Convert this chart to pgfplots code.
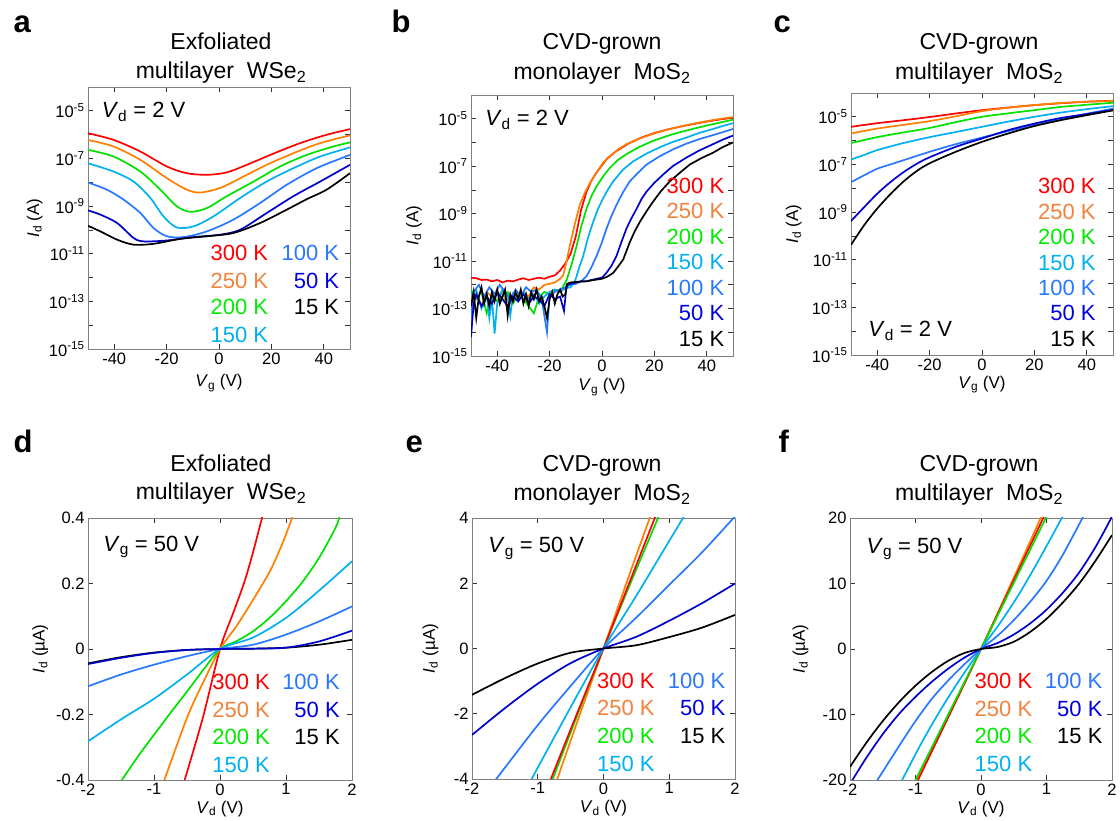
\documentclass[border=0pt]{standalone}
\usepackage{fontspec}
\setmainfont{Liberation Sans}
\usepackage{pgfplots}
\pgfplotsset{compat=1.18}
\definecolor{c300}{RGB}{255,0,0}
\definecolor{c250}{RGB}{255,128,0}
\definecolor{c250t}{RGB}{240,130,60}
\definecolor{c200}{RGB}{0,225,0}
\definecolor{c200t}{RGB}{0,235,0}
\definecolor{c150}{RGB}{0,176,240}
\definecolor{c100}{RGB}{40,120,255}
\definecolor{c50}{RGB}{0,0,205}
\definecolor{c50t}{RGB}{0,0,225}
\definecolor{c15}{RGB}{0,0,0}
\definecolor{framec}{RGB}{128,128,128}
\newcommand\tfont{\fontsize{16.5}{16.5}\selectfont}
\newcommand\afont{\fontsize{17}{17}\selectfont}
\newcommand\Lfont{\fontsize{22}{22}\selectfont}
\newcommand\Tfont{\fontsize{23}{23}\selectfont}
\newcommand\Pfont{\fontsize{31}{31}\selectfont\bfseries}
\pgfplotsset{
  panel/.style={
    scale only axis, width=262pt, height=262pt, anchor=south west,
    axis line style={draw=framec, line width=0.8pt},
    tick align=inside, tick pos=both,
    major tick length=5pt, minor tick length=5pt,
    every tick/.style={draw=black!80, line width=0.7pt},
    tick label style={font=\tfont},
    label style={font=\afont},
    xlabel style={anchor=base},
    ylabel style={anchor=base},
    every axis plot/.append style={line width=1.7pt},
  },
  logpanel/.style={
    ymin=1e-15, ymax=1e-4,
    xmin=-50, xmax=50,
    xtick={-40,-20,0,20,40}, xticklabels={-40,-20,0,20,40},
    ytick={1e-15,1e-14,1e-13,1e-12,1e-11,1e-10,1e-9,1e-8,1e-7,1e-6,1e-5,1e-4},
    yticklabels={10\textsuperscript{-15},,10\textsuperscript{-13},,10\textsuperscript{-11},,10\textsuperscript{-9},,10\textsuperscript{-7},,10\textsuperscript{-5},},
    yminorticks=false, xminorticks=false,
    xlabel={\textit{V}\textsubscript{g} (V)},
    ylabel={\textit{I}\textsubscript{d} (A)},
  },
  ivpanel/.style={
    xmin=-2, xmax=2,
    xtick={-2,-1,0,1,2}, xticklabels={-2,-1,0,1,2},
    xlabel={\textit{V}\textsubscript{d} (V)},
    ylabel={\textit{I}\textsubscript{d} (µA)},
  },
}
\begin{document}
\begin{tikzpicture}
\useasboundingbox (0,0) rectangle (1120pt,821pt);

% ---------------- titles and panel letters ----------------
\node[font=\Pfont, anchor=base west] at (10pt,788pt) {a};
\node[font=\Pfont, anchor=base west] at (388pt,788pt) {b};
\node[font=\Pfont, anchor=base west] at (770pt,788pt) {c};
\node[font=\Pfont, anchor=base west] at (10pt,368pt) {d};
\node[font=\Pfont, anchor=base west] at (402pt,368pt) {e};
\node[font=\Pfont, anchor=base west] at (775pt,368pt) {f};

\node[font=\Tfont, anchor=base] at (221pt,771pt) {Exfoliated};
\node[font=\Tfont, anchor=base] at (221pt,742pt) {multilayer\ \ WSe\textsubscript{2}};
\node[font=\Tfont, anchor=base] at (602pt,771pt) {CVD-grown};
\node[font=\Tfont, anchor=base] at (602pt,741pt) {monolayer\ \ MoS\textsubscript{2}};
\node[font=\Tfont, anchor=base] at (979pt,771pt) {CVD-grown};
\node[font=\Tfont, anchor=base] at (979pt,741pt) {multilayer\ \ MoS\textsubscript{2}};

\node[font=\Tfont, anchor=base] at (221pt,349pt) {Exfoliated};
\node[font=\Tfont, anchor=base] at (221pt,321pt) {multilayer\ \ WSe\textsubscript{2}};
\node[font=\Tfont, anchor=base] at (602pt,349pt) {CVD-grown};
\node[font=\Tfont, anchor=base] at (602pt,320pt) {monolayer\ \ MoS\textsubscript{2}};
\node[font=\Tfont, anchor=base] at (979pt,349pt) {CVD-grown};
\node[font=\Tfont, anchor=base] at (979pt,320pt) {multilayer\ \ MoS\textsubscript{2}};

% ---------------- panel a ----------------
\begin{semilogyaxis}[panel, logpanel, at={(88pt,472pt)},
  xlabel style={at={(axis description cs:0.5,-0.145)}},
  ylabel style={at={(axis description cs:-0.187,0.5)}}]
\addplot[c300, smooth] coordinates {(-50,1.15e-6)(-40.2,6.0e-7)(-30,1.95e-7)(-19.9,4.6e-8)(-12.3,2.4e-8)(-4.6,2.05e-8)(3,2.6e-8)(10.6,5.4e-8)(20.8,1.6e-7)(31,4.4e-7)(41,9.8e-7)(50,1.7e-6)};
\addplot[c250, smooth] coordinates {(-50,6.0e-7)(-40.2,3.16e-7)(-30,8.7e-8)(-19.9,1.48e-8)(-12.3,4.9e-9)(-7.2,3.7e-9)(0.4,5.75e-9)(8.1,1.48e-8)(18.2,5.4e-8)(28.4,1.66e-7)(38.6,4.4e-7)(50,9.3e-7)};
\addplot[c200, smooth] coordinates {(-50,2.3e-7)(-40.2,1.2e-7)(-30,2.8e-8)(-22.4,4.9e-9)(-16.1,9.8e-10)(-11,5.75e-10)(-4.6,8.3e-10)(3,2.6e-9)(13.2,1.07e-8)(23.3,4.6e-8)(33.5,1.41e-7)(43.6,3.16e-7)(50,4.7e-7)};
\addplot[c150, smooth] coordinates {(-50,6.3e-8)(-40.2,2.8e-8)(-32.6,1.07e-8)(-26.2,2.2e-9)(-21.2,3.7e-10)(-16.1,1.26e-10)(-9.7,1.41e-10)(-2.1,3.7e-10)(8.1,2.2e-9)(18.2,1.07e-8)(28.4,3.9e-8)(38.6,1.2e-7)(50,2.9e-7)};
\addplot[c100, smooth] coordinates {(-50,9.8e-9)(-42.8,4.9e-9)(-36.4,1.86e-9)(-30,5.1e-10)(-25,1.2e-10)(-19.9,5.4e-11)(-13.5,5.0e-11)(-4.6,8.7e-11)(5.5,2.7e-10)(15.7,1.35e-9)(25.9,7.9e-9)(37.3,3.9e-8)(50,1.41e-7)};
\addplot[c50, smooth] coordinates {(-50,6.6e-10)(-45.3,4.4e-10)(-38.9,1.95e-10)(-32.6,4.6e-11)(-28.8,3.3e-11)(-19.9,3.6e-11)(-9.7,5.0e-11)(0.4,6.3e-11)(8.1,1.02e-10)(18.2,5.1e-10)(28.4,2.6e-9)(38.6,1.07e-8)(50,5.4e-8)};
\addplot[c15, smooth] coordinates {(-50,1.48e-10)(-45.3,8.7e-11)(-38.9,3.9e-11)(-32.6,2.4e-11)(-25,2.6e-11)(-14.8,4.2e-11)(-4.6,5.4e-11)(5.5,7.4e-11)(15.7,1.95e-10)(25.9,7.1e-10)(33.5,1.95e-9)(41.1,4.9e-9)(50,2.4e-8)};
\node[font=\Lfont, anchor=base west] at (rel axis cs:0.039,0.882) {\textit{V}\textsubscript{d} = 2 V};
\node[font=\Lfont, anchor=base east, text=c300] at (rel axis cs:0.701,0.337) {300 K};
\node[font=\Lfont, anchor=base east, text=c250t] at (rel axis cs:0.701,0.232) {250 K};
\node[font=\Lfont, anchor=base east, text=c200t] at (rel axis cs:0.701,0.130) {200 K};
\node[font=\Lfont, anchor=base east, text=c150] at (rel axis cs:0.701,0.023) {150 K};
\node[font=\Lfont, anchor=base east, text=c100] at (rel axis cs:0.972,0.337) {100 K};
\node[font=\Lfont, anchor=base east, text=c50t] at (rel axis cs:0.972,0.232) {50 K};
\node[font=\Lfont, anchor=base east, text=c15] at (rel axis cs:0.972,0.130) {15 K};
\end{semilogyaxis}

% ---------------- panel b ----------------
\begin{semilogyaxis}[panel, logpanel, at={(471pt,465pt)}, height=261pt,
  xlabel style={at={(axis description cs:0.5,-0.134)}},
  ylabel style={at={(axis description cs:-0.201,0.5)}}]
\addplot[c300] coordinates {(-50,2.0e-12)(-48,1.9e-12)(-46,1.6e-12)(-44,1.66e-12)(-42,1.4e-12)(-40,1.6e-12)(-38,1.26e-12)(-36,1.5e-12)(-34,1.4e-12)(-32,1.66e-12)(-30,1.9e-12)(-28,1.6e-12)(-26,1.8e-12)(-24,2.0e-12)(-22,1.8e-12)(-20,2.2e-12)(-18,2.5e-12)(-16,4.0e-12)(-14,7.9e-12)(-12,2.0e-11)(-10,1.1e-10)(-8,1.4e-9)(-6,7.9e-9)(-4,2.5e-8)(-2,5.6e-8)(0,1.1e-7)(2,2.1e-7)(5,4.0e-7)(10,8.9e-7)(15,1.6e-6)(20,2.5e-6)(25,3.5e-6)(30,4.7e-6)(35,6.0e-6)(40,7.6e-6)(45,9.3e-6)(50,1.1e-5)};
\addplot[c250] coordinates {(-50,2.5e-13)(-48,4.0e-13)(-46,1.26e-13)(-44,5.0e-13)(-42,3.2e-13)(-40,2.0e-13)(-38,6.3e-13)(-36,7.9e-14)(-34,4.0e-13)(-32,2.5e-13)(-30,5.0e-13)(-28,3.2e-13)(-26,7.9e-13)(-24,6.3e-13)(-22,1.0e-12)(-20,1.1e-12)(-18,1.26e-12)(-16,1.8e-12)(-14.8,2.5e-12)(-13.5,1.0e-11)(-12.3,4.4e-11)(-10.5,3.2e-10)(-8.5,2.3e-9)(-6.5,7.9e-9)(-4.6,1.95e-8)(-2,5.6e-8)(0.4,1.4e-7)(3,2.5e-7)(6,5.0e-7)(9.3,8.5e-7)(14,1.4e-6)(19.5,2.3e-6)(25,3.5e-6)(30,4.7e-6)(35,6.2e-6)(40,7.9e-6)(45,9.8e-6)(50,1.17e-5)};
\addplot[c200] coordinates {(-50,6.3e-13)(-48,2.5e-13)(-46,5.0e-13)(-44,6.3e-14)(-42,4.0e-13)(-40,2.0e-13)(-38,3.2e-13)(-36,5.0e-13)(-34,1.6e-13)(-32,4.0e-13)(-30,2.5e-13)(-28,1.26e-13)(-26,6.3e-14)(-24,3.2e-13)(-22,5.0e-13)(-20,4.0e-13)(-18,6.3e-13)(-16,5.6e-13)(-15,7.9e-13)(-13.5,1.6e-12)(-11.5,7.9e-12)(-9.7,4.4e-11)(-7.8,3.2e-10)(-5.9,1.6e-9)(-4,5.6e-9)(-2.1,1.4e-8)(0.5,3.8e-8)(3,8.5e-8)(6,1.8e-7)(9.3,3.2e-7)(14,6.3e-7)(19.5,1.17e-6)(25,1.9e-6)(29.7,2.7e-6)(35,3.8e-6)(39.8,5.1e-6)(45,6.9e-6)(50,9.1e-6)};
\addplot[c150] coordinates {(-50,4.0e-13)(-48,6.3e-13)(-46,1.0e-13)(-44,4.0e-13)(-43,4.0e-14)(-42,2.5e-13)(-41,8.9e-15)(-40,1.6e-13)(-38,6.3e-13)(-36,3.2e-13)(-35,5.0e-14)(-34,4.0e-13)(-32,2.0e-13)(-30,5.0e-13)(-28,2.5e-13)(-26,4.0e-13)(-24,1.6e-13)(-22,3.2e-13)(-20,5.0e-13)(-18,6.3e-13)(-16,5.0e-13)(-14,7.1e-13)(-12,7.9e-13)(-10.5,1.26e-12)(-9.7,2.3e-12)(-8.5,6.3e-12)(-7.2,1.6e-11)(-5.3,1.0e-10)(-3.4,4.4e-10)(-1.5,1.6e-9)(0.4,4.4e-9)(2.3,1.05e-8)(4.3,2.3e-8)(8,7.1e-8)(11.9,1.6e-7)(17,3.4e-7)(22,6.2e-7)(27,1.05e-6)(32.2,1.6e-6)(37,2.5e-6)(42.4,3.7e-6)(46,4.9e-6)(50,6.5e-6)};
\addplot[c100] coordinates {(-50,5.0e-14)(-49,5.0e-13)(-47,1.0e-12)(-45,3.2e-13)(-43,7.9e-13)(-41,4.0e-13)(-39,1.0e-12)(-37,5.0e-13)(-35,2.5e-13)(-33,6.3e-13)(-31,3.2e-13)(-29,7.9e-13)(-27,5.0e-13)(-25,6.3e-13)(-23,2.5e-13)(-21,1.0e-14)(-20,3.2e-13)(-18,5.0e-13)(-16,6.3e-13)(-14,7.9e-13)(-12,1.0e-12)(-10,1.1e-12)(-8,1.4e-12)(-5.9,2.3e-12)(-4,5.6e-12)(-2.1,1.6e-11)(0,6.3e-11)(1.7,2.3e-10)(3.6,7.9e-10)(5.5,2.3e-9)(8,7.9e-9)(10.6,2.3e-8)(14,5.6e-8)(17,1.17e-7)(22,2.6e-7)(27.1,5.1e-7)(32,8.7e-7)(37.3,1.4e-6)(44,2.3e-6)(50,3.7e-6)};
\addplot[c50] coordinates {(-50,6.3e-15)(-49,1.6e-13)(-48,4.0e-13)(-46,1.26e-13)(-44,3.2e-13)(-42,1.6e-13)(-40,5.0e-13)(-38,2.5e-13)(-36,1.26e-13)(-34,3.2e-13)(-32,2.0e-13)(-30,4.0e-13)(-28,1.6e-13)(-26,3.2e-13)(-24,2.5e-13)(-22,1.26e-13)(-20,4.0e-13)(-18,2.5e-13)(-16,3.2e-13)(-14.5,7.9e-14)(-13.5,1.0e-12)(-12,1.1e-12)(-10,1.26e-12)(-8,1.4e-12)(-6,1.4e-12)(-4,1.6e-12)(-2,1.8e-12)(0,2.0e-12)(1.7,3.2e-12)(3.6,6.3e-12)(5.5,1.6e-11)(7.4,6.3e-11)(9.3,2.3e-10)(11.2,6.3e-10)(13.2,1.6e-9)(15,4.0e-9)(17,8.5e-9)(20,2.0e-8)(23.3,4.4e-8)(27,1.0e-7)(32.2,2.3e-7)(37,4.5e-7)(42.4,8.5e-7)(46,1.3e-6)(50,1.95e-6)};
\addplot[c15] coordinates {(-50,1.26e-13)(-49,5.0e-13)(-48,4.0e-14)(-47,3.2e-13)(-46,7.9e-13)(-45,1.6e-13)(-44,4.0e-13)(-43,1.26e-13)(-42,5.0e-13)(-41,2.0e-13)(-40,6.3e-13)(-39,1.6e-13)(-38,3.2e-13)(-37,6.3e-13)(-36,5.0e-14)(-35,4.0e-13)(-34,2.0e-13)(-33,5.0e-13)(-32,2.5e-13)(-31,6.3e-13)(-30,1.6e-13)(-29,4.0e-13)(-28,1.26e-13)(-27,5.0e-13)(-26,2.5e-13)(-25,6.3e-13)(-24,2.0e-13)(-23,3.2e-13)(-22,1.26e-13)(-21,4.0e-14)(-20,2.5e-13)(-19,5.0e-13)(-18,1.6e-13)(-17,4.0e-13)(-16,6.3e-13)(-15,3.2e-13)(-14,4.0e-13)(-13.3,1.1e-12)(-12,1.26e-12)(-9,1.35e-12)(-6,1.4e-12)(-3,1.6e-12)(0,1.8e-12)(2,2.2e-12)(4.3,3.2e-12)(6,5.6e-12)(8.1,1.17e-11)(10.6,6.2e-11)(12.5,1.8e-10)(14.4,4.4e-10)(17,1.26e-9)(19.5,3.2e-9)(22.5,8.9e-9)(25.9,2.3e-8)(30,5.6e-8)(33.5,1.17e-7)(38,2.2e-7)(42.4,3.7e-7)(46,6.3e-7)(50,1.0e-6)};
\node[font=\Lfont, anchor=base west] at (rel axis cs:0.041,0.885) {\textit{V}\textsubscript{d} = 2 V};
\node[font=\Lfont, anchor=base east, text=c300] at (rel axis cs:0.98,0.621) {300 K};
\node[font=\Lfont, anchor=base east, text=c250t] at (rel axis cs:0.98,0.525) {250 K};
\node[font=\Lfont, anchor=base east, text=c200t] at (rel axis cs:0.98,0.429) {200 K};
\node[font=\Lfont, anchor=base east, text=c150] at (rel axis cs:0.98,0.330) {150 K};
\node[font=\Lfont, anchor=base east, text=c100] at (rel axis cs:0.98,0.231) {100 K};
\node[font=\Lfont, anchor=base east, text=c50t] at (rel axis cs:0.98,0.135) {50 K};
\node[font=\Lfont, anchor=base east, text=c15] at (rel axis cs:0.98,0.036) {15 K};
\end{semilogyaxis}

% ---------------- panel c ----------------
\begin{semilogyaxis}[panel, logpanel, at={(851pt,466pt)},
  xlabel style={at={(axis description cs:0.5,-0.126)}},
  ylabel style={at={(axis description cs:-0.202,0.5)}}]
\addplot[c300, smooth] coordinates {(-50,3.8e-6)(-40,5.4e-6)(-30,7.2e-6)(-20,9.8e-6)(-10,1.38e-5)(0,1.9e-5)(10,2.45e-5)(20,3.1e-5)(30,3.7e-5)(40,4.3e-5)(50,4.7e-5)};
\addplot[c250, smooth] coordinates {(-50,2.0e-6)(-40,3.2e-6)(-30,4.6e-6)(-20,6.6e-6)(-10,1.05e-5)(0,1.74e-5)(10,2.4e-5)(20,3.1e-5)(30,3.8e-5)(40,4.3e-5)(50,4.6e-5)};
\addplot[c200, smooth] coordinates {(-50,7.9e-7)(-40,1.4e-6)(-30,2.2e-6)(-20,3.4e-6)(-10,6.0e-6)(0,1.0e-5)(10,1.4e-5)(20,1.9e-5)(30,2.6e-5)(40,3.2e-5)(50,3.9e-5)};
\addplot[c150, smooth] coordinates {(-50,1.6e-7)(-45,2.5e-7)(-40,4.0e-7)(-30,7.9e-7)(-20,1.4e-6)(-10,2.3e-6)(0,3.8e-6)(10,6.3e-6)(20,1.0e-5)(30,1.5e-5)(40,2.1e-5)(50,2.8e-5)};
\addplot[c100, smooth] coordinates {(-50,1.8e-8)(-45,3.5e-8)(-40,6.6e-8)(-35,1.0e-7)(-30,1.5e-7)(-20,3.4e-7)(-10,7.1e-7)(0,1.35e-6)(10,2.5e-6)(20,4.5e-6)(30,7.9e-6)(40,1.35e-5)(50,2.2e-5)};
\addplot[c50, smooth] coordinates {(-50,4.2e-10)(-45,1.6e-9)(-40,5.9e-9)(-35,1.8e-8)(-30,4.7e-8)(-25,1.05e-7)(-20,2.0e-7)(-10,5.5e-7)(0,1.23e-6)(10,2.75e-6)(20,5.2e-6)(30,8.9e-6)(40,1.3e-5)(50,1.95e-5)};
\addplot[c15, smooth] coordinates {(-50,4.2e-11)(-45,2.8e-10)(-40,1.4e-9)(-35,5.6e-9)(-30,1.9e-8)(-25,5.2e-8)(-20,1.12e-7)(-10,3.4e-7)(0,8.9e-7)(10,2.0e-6)(20,4.1e-6)(30,7.2e-6)(40,1.17e-5)(50,1.86e-5)};
\node[font=\Lfont, anchor=base west] at (rel axis cs:0.053,0.069) {\textit{V}\textsubscript{d} = 2 V};
\node[font=\Lfont, anchor=base east, text=c300] at (rel axis cs:0.947,0.615) {300 K};
\node[font=\Lfont, anchor=base east, text=c250t] at (rel axis cs:0.947,0.518) {250 K};
\node[font=\Lfont, anchor=base east, text=c200t] at (rel axis cs:0.947,0.421) {200 K};
\node[font=\Lfont, anchor=base east, text=c150] at (rel axis cs:0.947,0.324) {150 K};
\node[font=\Lfont, anchor=base east, text=c100] at (rel axis cs:0.947,0.226) {100 K};
\node[font=\Lfont, anchor=base east, text=c50t] at (rel axis cs:0.947,0.130) {50 K};
\node[font=\Lfont, anchor=base east, text=c15] at (rel axis cs:0.947,0.033) {15 K};
\end{semilogyaxis}

% ---------------- panel d ----------------
\begin{axis}[panel, ivpanel, at={(88pt,41pt)}, width=264pt,
  ymin=-0.4, ymax=0.4, ytick={-0.4,-0.2,0,0.2,0.4}, yticklabels={-0.4,-0.2,0,0.2,0.4},
  xlabel style={at={(axis description cs:0.5,-0.126)}},
  ylabel style={at={(axis description cs:-0.164,0.5)}}]
\addplot[c300, smooth] coordinates {(-0.55,-0.41)(-0.26,-0.21)(0,0)(0.2,0.11)(0.37,0.205)(0.5,0.295)(0.636,0.4)(0.65,0.41)};
\addplot[c250, smooth] coordinates {(-0.86,-0.41)(-0.5,-0.21)(-0.25,-0.1)(0,0)(0.25,0.07)(0.5,0.15)(0.75,0.235)(0.9,0.3)(1.0,0.35)(1.1,0.405)};
\addplot[c200, smooth] coordinates {(-1.52,-0.41)(-1.25,-0.33)(-1,-0.262)(-0.75,-0.195)(-0.5,-0.13)(-0.25,-0.063)(0,0)(0.25,0.024)(0.5,0.054)(0.75,0.095)(1,0.146)(1.25,0.205)(1.5,0.278)(1.75,0.37)(1.82,0.41)};
\addplot[c150, smooth] coordinates {(-2,-0.282)(-1.5,-0.215)(-1,-0.152)(-0.5,-0.078)(0,0)(0.5,0.035)(1,0.095)(1.5,0.178)(2,0.268)};
\addplot[c100, smooth] coordinates {(-2,-0.114)(-1.5,-0.078)(-1,-0.048)(-0.5,-0.022)(0,0)(0.5,0.013)(1,0.044)(1.5,0.084)(2,0.13)};
\addplot[c15, smooth] coordinates {(-2,-0.044)(-1.5,-0.025)(-1,-0.011)(-0.5,-0.003)(0,0)(0.5,0.001)(1,0.004)(1.5,0.013)(2,0.028)};
\addplot[c50, smooth] coordinates {(-2,-0.046)(-1.5,-0.027)(-1,-0.012)(-0.5,-0.003)(0,0)(0.5,0.001)(1,0.004)(1.5,0.023)(2,0.056)};
\node[font=\Lfont, anchor=base west] at (rel axis cs:0.045,0.871) {\textit{V}\textsubscript{g} = 50 V};
\node[font=\Lfont, anchor=base east, text=c300] at (rel axis cs:0.702,0.344) {300 K};
\node[font=\Lfont, anchor=base east, text=c250t] at (rel axis cs:0.702,0.238) {250 K};
\node[font=\Lfont, anchor=base east, text=c200t] at (rel axis cs:0.702,0.134) {200 K};
\node[font=\Lfont, anchor=base east, text=c150] at (rel axis cs:0.702,0.028) {150 K};
\node[font=\Lfont, anchor=base east, text=c100] at (rel axis cs:0.967,0.344) {100 K};
\node[font=\Lfont, anchor=base east, text=c50t] at (rel axis cs:0.967,0.238) {50 K};
\node[font=\Lfont, anchor=base east, text=c15] at (rel axis cs:0.967,0.134) {15 K};
\end{axis}

% ---------------- panel e ----------------
\begin{axis}[panel, ivpanel, at={(472pt,42pt)}, width=263pt, height=261pt,
  ymin=-4, ymax=4, ytick={-4,-2,0,2,4}, yticklabels={-4,-2,0,2,4},
  xlabel style={at={(axis description cs:0.5,-0.13)}},
  ylabel style={at={(axis description cs:-0.141,0.5)}}]
\addplot[c250, smooth] coordinates {(-0.72,-4.1)(-0.4,-2.25)(0,0)(0.4,2.3)(0.73,4.15)};
\addplot[c200, smooth] coordinates {(-0.8,-4.15)(-0.4,-2.05)(0,0)(0.4,1.95)(0.85,4.1)};
\addplot[c300, smooth] coordinates {(-0.83,-4.15)(-0.4,-1.98)(0,0)(0.4,2.05)(0.8,4.1)};
\addplot[c150, smooth] coordinates {(-1.12,-4.1)(-0.5,-1.8)(0,0)(0.5,1.62)(1.0,3.3)(1.24,4.1)};
\addplot[c100, smooth] coordinates {(-1.65,-4.05)(-1,-2.35)(-0.5,-1.15)(0,0)(0.5,0.95)(1,1.95)(1.5,2.95)(2,4.05)};
\addplot[c50, smooth] coordinates {(-2,-2.65)(-1.5,-1.83)(-1,-1.08)(-0.5,-0.45)(0,0)(0.5,0.36)(1,0.85)(1.5,1.39)(2,1.99)};
\addplot[c15, smooth] coordinates {(-2,-1.42)(-1.5,-0.91)(-1,-0.46)(-0.5,-0.13)(0,0)(0.5,0.1)(1,0.35)(1.5,0.64)(2,1.03)};
\node[font=\Lfont, anchor=base west] at (rel axis cs:0.049,0.866) {\textit{V}\textsubscript{g} = 50 V};
\node[font=\Lfont, anchor=base east, text=c300] at (rel axis cs:0.708,0.347) {300 K};
\node[font=\Lfont, anchor=base east, text=c250t] at (rel axis cs:0.708,0.242) {250 K};
\node[font=\Lfont, anchor=base east, text=c200t] at (rel axis cs:0.708,0.137) {200 K};
\node[font=\Lfont, anchor=base east, text=c150] at (rel axis cs:0.708,0.028) {150 K};
\node[font=\Lfont, anchor=base east, text=c100] at (rel axis cs:0.977,0.347) {100 K};
\node[font=\Lfont, anchor=base east, text=c50t] at (rel axis cs:0.977,0.242) {50 K};
\node[font=\Lfont, anchor=base east, text=c15] at (rel axis cs:0.977,0.137) {15 K};
\end{axis}

% ---------------- panel f ----------------
\begin{axis}[panel, ivpanel, at={(850pt,41pt)},
  ymin=-20, ymax=20, ytick={-20,-10,0,10,20}, yticklabels={-20,-10,0,10,20},
  xlabel style={at={(axis description cs:0.5,-0.126)}},
  ylabel style={at={(axis description cs:-0.172,0.5)}}]
\addplot[c250, smooth] coordinates {(-1.0,-20.4)(0,0)(0.92,20.2)};
\addplot[c300, smooth] coordinates {(-0.98,-20.4)(0,0)(0.96,20.2)};
\addplot[c200, smooth] coordinates {(-1.02,-20.4)(0,0)(1.0,20.2)};
\addplot[c150, smooth] coordinates {(-1.22,-20.3)(-0.9,-14.2)(-0.6,-9.0)(-0.3,-4.3)(0,0)(0.3,4.1)(0.6,8.7)(0.9,13.9)(1.25,20.3)};
\addplot[c100, smooth] coordinates {(-1.6,-20.3)(-1.25,-14.8)(-1,-11.0)(-0.75,-7.6)(-0.5,-4.8)(-0.25,-2.3)(0,0)(0.25,2.0)(0.5,4.4)(0.75,7.2)(1,10.4)(1.25,14.4)(1.57,20.4)};
\addplot[c50, smooth] coordinates {(-2,-20.6)(-1.75,-16.6)(-1.5,-13.0)(-1.25,-9.9)(-1,-7.3)(-0.75,-5.0)(-0.5,-3.0)(-0.25,-1.3)(0,0)(0.25,0.9)(0.5,2.2)(0.75,3.9)(1,6.0)(1.25,8.6)(1.5,11.7)(1.75,15.6)(2,20.2)};
\addplot[c15, smooth] coordinates {(-2,-18.0)(-1.75,-14.3)(-1.5,-11.0)(-1.25,-8.1)(-1,-5.6)(-0.75,-3.5)(-0.5,-1.8)(-0.25,-0.6)(0,0)(0.25,0.3)(0.5,1.1)(0.75,2.6)(1,4.6)(1.25,7.1)(1.5,10.0)(1.75,13.5)(2,17.4)};
\node[font=\Lfont, anchor=base west] at (rel axis cs:0.05,0.866) {\textit{V}\textsubscript{g} = 50 V};
\node[font=\Lfont, anchor=base east, text=c300] at (rel axis cs:0.709,0.35) {300 K};
\node[font=\Lfont, anchor=base east, text=c250t] at (rel axis cs:0.709,0.242) {250 K};
\node[font=\Lfont, anchor=base east, text=c200t] at (rel axis cs:0.709,0.14) {200 K};
\node[font=\Lfont, anchor=base east, text=c150] at (rel axis cs:0.709,0.032) {150 K};
\node[font=\Lfont, anchor=base east, text=c100] at (rel axis cs:0.977,0.35) {100 K};
\node[font=\Lfont, anchor=base east, text=c50t] at (rel axis cs:0.977,0.242) {50 K};
\node[font=\Lfont, anchor=base east, text=c15] at (rel axis cs:0.977,0.14) {15 K};
\end{axis}
\end{tikzpicture}
\end{document}
